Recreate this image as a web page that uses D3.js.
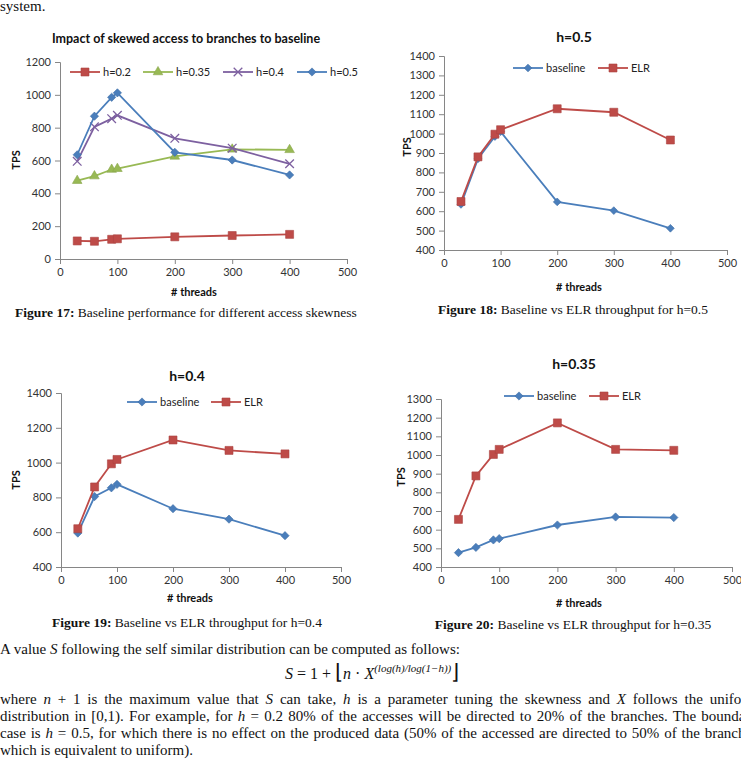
<!DOCTYPE html>
<html>
<head>
<meta charset="utf-8">
<script src="https://cdn.jsdelivr.net/npm/d3@7"></script>
<style>
body { margin: 0; background: #fff; }
svg { display: block; }
</style>
</head>
<body>
<div id="main"></div>
<script>
// ---- data ----
var threads = [30, 60, 90, 100, 200, 300, 400];

// fig 17: baseline TPS for each skew value
var skewH02 = [110, 108, 120, 123, 135, 143, 150];
var skewH035 = [477, 505, 545, 550, 625, 668, 665];
var skewH04 = [595, 805, 855, 875, 735, 675, 580];
var skewH05 = [635, 870, 985, 1012, 650, 603, 512];

// fig 18: h=0.5
var h05Baseline = [635, 870, 985, 1010, 648, 603, 512];
var h05ELR = [650, 880, 997, 1020, 1128, 1110, 967];
// fig 19: h=0.4
var h04Baseline = [595, 805, 855, 875, 735, 675, 580];
var h04ELR = [620, 860, 993, 1018, 1130, 1070, 1050];
// fig 20: h=0.35
var h035Baseline = [477, 505, 545, 552, 625, 668, 665];
var h035ELR = [655, 888, 1003, 1030, 1172, 1030, 1025];

var xTicks = [0, 100, 200, 300, 400, 500];
var yTicks17 = [0, 200, 400, 600, 800, 1000, 1200];
var yTicks18 = [400, 500, 600, 700, 800, 900, 1000, 1100, 1200, 1300, 1400];
var yTicks19 = [400, 600, 800, 1000, 1200, 1400];
var yTicks20 = [400, 500, 600, 700, 800, 900, 1000, 1100, 1200, 1300];

var ctx = {
    w: 741,
    h: 765,
    chartFont: "Lato, 'Open Sans', sans-serif",
    serif: "'Liberation Serif', 'Times New Roman', serif",
    axisColor: "#868686",
    labelColor: "#333",
    BLUE: "#4A7EBB",
    RED: "#BE4B48",
    GREEN: "#98B954",
    PURPLE: "#7D60A0"
};

var markerPath = function(kind, size) {
    switch (kind) {
        case "square": return d3.symbol().type(d3.symbolSquare).size(size)();
        case "diamond": return d3.symbol().type(d3.symbolSquare).size(size)();
        case "triangle": return d3.symbol().type(d3.symbolTriangle).size(size)();
        case "times": return d3.symbol().type(d3.symbolTimes).size(size)();
    }
};

var drawMarker = function(g, kind, size, color, x, y) {
    var p = g.append("path")
        .attr("d", markerPath(kind, size))
        .attr("transform", "translate(" + x + "," + y + ")" + (kind == "diamond" ? " rotate(45)" : ""));
    if (kind == "times") {
        p.style("fill", "none").style("stroke", color).style("stroke-width", 1.3);
    } else {
        p.style("fill", color).style("stroke", d3.color(color).darker(0.3)).style("stroke-width", 0.6);
    }
};

var drawChart = function(svg, c) {
    var g = svg.append("g");
    var xScale = d3.scaleLinear().domain([0, 500]).range(c.xRange);
    var yScale = d3.scaleLinear().domain(c.yDomain).range(c.yRange);

    // axes
    var xAxis = g.append("g")
        .attr("transform", "translate(0," + c.yRange[0] + ")")
        .call(d3.axisBottom(xScale).tickValues(xTicks).tickFormat(d3.format("d"))
            .tickSizeOuter(0).tickSize(5).tickPadding(4));
    var yAxis = g.append("g")
        .attr("transform", "translate(" + c.xRange[0] + ",0)")
        .call(d3.axisLeft(yScale).tickValues(c.yTicks).tickFormat(d3.format("d"))
            .tickSizeOuter(0).tickSize(5).tickPadding(4));
    [xAxis, yAxis].forEach(function(a) {
        a.select(".domain").style("stroke", ctx.axisColor);
        a.selectAll(".tick line").style("stroke", ctx.axisColor);
        a.selectAll("text")
            .style("font-family", ctx.chartFont)
            .style("font-size", "11px")
            .style("fill", ctx.labelColor);
    });

    // title
    g.append("text")
        .attr("x", c.titleX)
        .attr("y", c.titleY)
        .style("text-anchor", "middle")
        .style("font-family", ctx.chartFont)
        .style("font-weight", "bold")
        .style("font-size", c.titleSize + "px")
        .style("fill", "#111")
        .text(c.title);
    // x-axis label
    g.append("text")
        .attr("x", c.xLabel[0])
        .attr("y", c.xLabel[1])
        .style("text-anchor", "middle")
        .style("font-family", ctx.chartFont)
        .style("font-weight", "bold")
        .style("font-size", "11px")
        .style("fill", "#111")
        .text("# threads");
    // y-axis label
    g.append("text")
        .attr("transform", "translate(" + c.yLabel[0] + "," + c.yLabel[1] + ") rotate(-90)")
        .style("text-anchor", "middle")
        .style("font-family", ctx.chartFont)
        .style("font-weight", "bold")
        .style("font-size", "11px")
        .style("fill", "#111")
        .text("TPS");

    // series
    var line = d3.line()
        .x(function(d) { return xScale(d.x); })
        .y(function(d) { return yScale(d.y); });
    c.series.forEach(function(s) {
        var pts = threads.map(function(t, i) { return {x: t, y: s.values[i]}; });
        g.append("path")
            .datum(pts)
            .attr("d", line)
            .style("fill", "none")
            .style("stroke", s.color)
            .style("stroke-width", 1.8);
        pts.forEach(function(p) {
            drawMarker(g, s.marker, s.size, s.color, xScale(p.x), yScale(p.y));
        });
    });

    // legend
    c.series.forEach(function(s, i) {
        var lx = c.legend[i];
        g.append("line")
            .attr("x1", lx).attr("x2", lx + 30)
            .attr("y1", c.legendY).attr("y2", c.legendY)
            .style("stroke", s.color)
            .style("stroke-width", 1.8);
        drawMarker(g, s.marker, s.size, s.color, lx + 15, c.legendY);
        g.append("text")
            .attr("x", lx + 33)
            .attr("y", c.legendY + 4)
            .style("font-family", ctx.chartFont)
            .style("font-size", "11px")
            .style("fill", "#222")
            .text(s.name);
    });

    // caption
    var cap = svg.append("text")
        .attr("x", c.caption[0])
        .attr("y", c.caption[1])
        .style("text-anchor", "middle")
        .style("font-family", ctx.serif)
        .style("font-size", "13.5px")
        .style("fill", "#111");
    cap.append("tspan").style("font-weight", "bold").text(c.captionBold);
    cap.append("tspan").text(c.captionText);
};

var writeLine = function(svg, x, y, parts, target) {
    var t = svg.append("text")
        .attr("x", x)
        .attr("y", y)
        .style("font-family", ctx.serif)
        .style("font-size", "15px")
        .style("fill", "#111");
    parts.forEach(function(p) {
        var ts = t.append("tspan").text(p[0]);
        if (p[1] == "i") ts.style("font-style", "italic");
    });
    if (target) {
        var natural = t.node().getComputedTextLength();
        var full = parts.map(function(p) { return p[0]; }).join("");
        var spaces = full.split(" ").length - 1;
        t.style("word-spacing", ((target - natural) / spaces) + "px");
    }
    return t;
};

var createViz = function() {
    var svg = d3.select("#main").append("svg")
        .attr("width", ctx.w)
        .attr("height", ctx.h);
    svg.append("rect").attr("width", ctx.w).attr("height", ctx.h).style("fill", "#fff");

    writeLine(svg, 0, 11, [["system.", ""]]);

    drawChart(svg, {
        xRange: [60, 347], yRange: [259, 62], yDomain: [0, 1200], yTicks: yTicks17,
        title: "Impact of skewed access to branches to baseline", titleX: 186, titleY: 43, titleSize: 12.5,
        xLabel: [194, 296], yLabel: [20, 160],
        legendY: 72, legend: [70, 143, 223, 297],
        series: [
            {name: "h=0.2", values: skewH02, color: ctx.RED, marker: "square", size: 64},
            {name: "h=0.35", values: skewH035, color: ctx.GREEN, marker: "triangle", size: 40},
            {name: "h=0.4", values: skewH04, color: ctx.PURPLE, marker: "times", size: 50},
            {name: "h=0.5", values: skewH05, color: ctx.BLUE, marker: "diamond", size: 34}
        ],
        caption: [186, 317], captionBold: "Figure 17:", captionText: " Baseline performance for different access skewness"
    });

    drawChart(svg, {
        xRange: [444, 727], yRange: [250, 56], yDomain: [400, 1400], yTicks: yTicks18,
        title: "h=0.5", titleX: 574, titleY: 42, titleSize: 14,
        xLabel: [579, 291], yLabel: [411, 147],
        legendY: 68, legend: [513, 598],
        series: [
            {name: "baseline", values: h05Baseline, color: ctx.BLUE, marker: "diamond", size: 30},
            {name: "ELR", values: h05ELR, color: ctx.RED, marker: "square", size: 64}
        ],
        caption: [573, 314], captionBold: "Figure 18:", captionText: " Baseline vs ELR throughput for h=0.5"
    });

    drawChart(svg, {
        xRange: [61, 341], yRange: [567, 393], yDomain: [400, 1400], yTicks: yTicks19,
        title: "h=0.4", titleX: 187, titleY: 381, titleSize: 14,
        xLabel: [190, 602], yLabel: [20, 480],
        legendY: 402, legend: [127, 211],
        series: [
            {name: "baseline", values: h04Baseline, color: ctx.BLUE, marker: "diamond", size: 34},
            {name: "ELR", values: h04ELR, color: ctx.RED, marker: "square", size: 64}
        ],
        caption: [187, 627], captionBold: "Figure 19:", captionText: " Baseline vs ELR throughput for h=0.4"
    });

    drawChart(svg, {
        xRange: [441, 732], yRange: [567, 399], yDomain: [400, 1300], yTicks: yTicks20,
        title: "h=0.35", titleX: 574, titleY: 369, titleSize: 14,
        xLabel: [579, 607], yLabel: [405, 477],
        legendY: 396, legend: [504, 589],
        series: [
            {name: "baseline", values: h035Baseline, color: ctx.BLUE, marker: "diamond", size: 34},
            {name: "ELR", values: h035ELR, color: ctx.RED, marker: "square", size: 64}
        ],
        caption: [573, 629], captionBold: "Figure 20:", captionText: " Baseline vs ELR throughput for h=0.35"
    });

    // body text under the figures
    writeLine(svg, 0, 654, [["A value ", ""], ["S", "i"], [" following the self similar distribution can be computed as follows:", ""]]);

    var f = svg.append("text")
        .attr("x", 285)
        .attr("y", 679)
        .style("font-family", ctx.serif)
        .style("font-size", "16px")
        .style("fill", "#111");
    f.append("tspan").style("font-style", "italic").text("S");
    f.append("tspan").text(" = 1 + ");
    f.append("tspan").style("font-size", "21px").text("\u230A");
    f.append("tspan").style("font-style", "italic").text("n");
    f.append("tspan").text(" \u00B7 ");
    f.append("tspan").style("font-style", "italic").text("X");
    f.append("tspan").attr("dy", -7).style("font-size", "11px").style("font-style", "italic").text("(log(h)/log(1\u2212h))");
    f.append("tspan").attr("dy", 7).style("font-size", "21px").text("\u230B");

    var target = 758;
    writeLine(svg, 0, 704, [["where ", ""], ["n", "i"], [" + 1 is the maximum value that ", ""], ["S", "i"], [" can take, ", ""], ["h", "i"], [" is a parameter tuning the skewness and ", ""], ["X", "i"], [" follows the uniform", ""]], target);
    writeLine(svg, 0, 721, [["distribution in [0,1). For example, for ", ""], ["h", "i"], [" = 0.2 80% of the accesses will be directed to 20% of the branches. The boundary", ""]], target);
    writeLine(svg, 0, 738, [["case is ", ""], ["h", "i"], [" = 0.5, for which there is no effect on the produced data (50% of the accessed are directed to 50% of the branches", ""]], target);
    writeLine(svg, 0, 755, [["which is equivalent to uniform).", ""]]);
};

createViz();
</script>
</body>
</html>
